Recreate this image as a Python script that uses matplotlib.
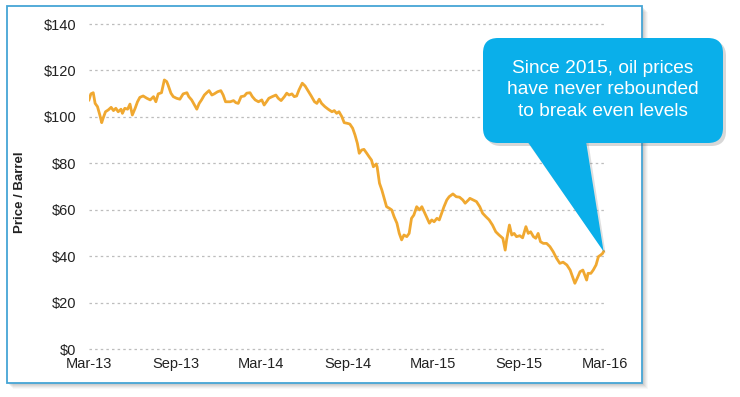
import matplotlib
matplotlib.use('Agg')
import matplotlib.pyplot as plt
import matplotlib.dates as mdates
from matplotlib.patches import Rectangle, FancyBboxPatch, Polygon
import pandas as pd

plt.rcParams['font.family'] = ['Liberation Sans', 'DejaVu Sans']

# Brent price readings (USD / barrel), dated in days after start_date
start_date = '2013-03-01'
day_offsets = [
    0, 4, 9, 13, 18, 23, 27, 30, 35, 41, 47, 52, 57, 62, 68, 71, 76, 82, 87, 92,
    98, 103, 108, 115, 123, 130, 137, 142, 147, 154, 160, 165, 168, 174, 179, 186, 193, 200, 208, 212,
    218, 224, 229, 234, 239, 245, 250, 255, 261, 266, 273, 280, 285, 290, 300, 307, 312, 317, 323, 330,
    335, 342, 347, 353, 360, 367, 372, 377, 382, 389, 397, 402, 408, 415, 420, 425, 431, 436, 441, 446,
    453, 459, 465, 472, 479, 484, 489, 494, 501, 508, 516, 521, 526, 531, 537, 542, 549, 554, 560, 565,
    570, 574, 579, 584, 590, 595, 600, 604, 610, 612, 617, 622, 627, 632, 638, 643, 648, 654, 659, 664,
    669, 675, 680, 685, 690, 696, 702, 707, 712, 717, 723, 728, 733, 739, 744, 749, 754, 760, 765, 773,
    780, 787, 794, 799, 806, 809, 816, 823, 830, 836, 843, 850, 857, 864, 871, 879, 884, 887, 893, 898,
    903, 908, 915, 921, 928, 933, 938, 944, 949, 954, 959, 965, 972, 979, 986, 993, 1000, 1007, 1015, 1022,
    1027, 1032, 1037, 1043, 1049, 1053, 1057, 1060, 1066, 1071, 1077, 1082, 1087, 1091, 1093,
]
prices = [
    107.3, 109.9, 110.4, 105.8, 104.4, 100.8, 97.5, 99.4, 102.2, 103.0, 104.1, 102.7, 103.7, 102.2, 103.3, 101.5, 103.7, 103.3, 105.5, 100.8,
    103.7, 106.5, 108.4, 109.0, 108.0, 107.3, 108.7, 106.5, 109.9, 110.4, 115.9, 115.2, 113.7, 110.2, 108.7, 108.0, 107.6, 109.9, 110.4, 108.7,
    107.3, 105.1, 103.3, 105.8, 107.3, 109.4, 110.4, 111.3, 109.4, 109.9, 110.8, 111.3, 109.4, 106.5, 106.5, 107.0, 106.1, 105.8, 108.7, 109.0,
    110.2, 110.4, 108.7, 107.3, 106.5, 107.3, 105.1, 106.5, 108.0, 108.7, 109.4, 108.0, 107.0, 108.7, 110.2, 109.4, 109.9, 108.7, 109.0, 111.6,
    114.5, 113.3, 111.3, 109.0, 106.5, 105.8, 107.6, 105.8, 104.4, 103.3, 102.2, 102.7, 101.5, 102.2, 100.1, 97.5, 97.2, 96.9, 95.1, 92.2,
    88.6, 84.3, 85.7, 86.0, 84.3, 82.8, 81.4, 78.5, 79.7, 78.5, 71.4, 68.5, 64.9, 61.3, 60.6, 59.9, 57.0, 54.2, 49.8, 47.0,
    49.1, 48.4, 49.8, 56.3, 57.7, 61.3, 59.9, 61.3, 59.1, 57.0, 54.2, 55.6, 54.8, 56.3, 55.6, 58.5, 61.3, 64.2, 65.6, 66.8,
    65.6, 65.4, 64.2, 62.8, 64.2, 64.9, 64.2, 63.5, 61.3, 58.5, 57.0, 55.6, 53.4, 50.5, 49.1, 47.7, 42.6, 47.0, 53.4, 49.1,
    49.8, 48.4, 48.8, 47.9, 52.7, 49.8, 50.5, 48.4, 47.7, 49.8, 46.2, 45.5, 45.5, 44.1, 41.9, 39.1, 36.9, 37.4, 36.2, 34.0,
    31.1, 28.3, 30.5, 33.3, 34.0, 31.9, 29.7, 32.6, 32.6, 34.0, 36.2, 39.8, 40.5, 41.2, 42.0,
]
yticks = [0, 20, 40, 60, 80, 100, 120, 140]
note = "Since 2015, oil prices\nhave never rebounded\nto break even levels"

W, H = 740, 397


def pt(px, py):
    # pixel position (from top-left) -> inches for dpi_scale_trans
    return (px / 100, (H - py) / 100)


def main():
    x = pd.Timestamp(start_date) + pd.to_timedelta(day_offsets, unit='D')

    fig = plt.figure(figsize=(7.4, 3.97), dpi=100)
    tr = fig.dpi_scale_trans

    # white card with soft shadow
    for off, a in [(6, 0.05), (5, 0.07), (4, 0.09), (3, 0.11), (2, 0.13)]:
        fig.patches.append(Rectangle(pt(7 + off, 383 + off), 6.35, 3.77, transform=tr,
                                     facecolor='#808080', alpha=a, edgecolor='none', zorder=-3))
    fig.patches.append(Rectangle(pt(7, 383), 6.35, 3.77, transform=tr,
                                 facecolor='white', edgecolor='#45a5d5', lw=1.3, zorder=-2))

    ax = fig.add_axes([89 / W, (H - 349) / H, (605 - 89) / W, (349 - 24) / H])
    ax.patch.set_alpha(0)
    ax.plot(x, prices, color='#F0A830', lw=2.0, solid_joinstyle='round')

    ax.set_ylim(0, 140)
    ax.set_xlim(pd.Timestamp('2013-03-01'), pd.Timestamp('2016-03-01'))
    ax.set_yticks(yticks)
    ax.set_yticklabels([r'\$%d' % v for v in yticks])
    ax.xaxis.set_major_locator(mdates.MonthLocator(bymonth=[3, 9]))
    ax.xaxis.set_major_formatter(mdates.DateFormatter('%b-%y'))
    ax.tick_params(axis='both', length=0, labelsize=10.5, colors='#222222')
    ax.tick_params(axis='y', pad=9)
    ax.tick_params(axis='x', pad=6)
    for s in ax.spines.values():
        s.set_visible(False)
    ax.grid(axis='y', color='#bdbdbd', linestyle=(0, (2, 2.5)), lw=0.9)
    for gl in ax.get_ygridlines():
        gl.set_clip_on(False)

    fig.text(20 / W, 1 - 192 / H, 'Price / Barrel', rotation=90, ha='center', va='center',
             fontsize=9.5, fontweight='bold', color='#222222')

    # callout bubble pointing at the last price
    fig.canvas.draw()
    tip = ax.transData.transform((mdates.date2num(x[-1]), prices[-1])) / 100
    blue = '#0AAFEA'
    fig.patches.append(FancyBboxPatch(pt(486, 146), 2.40, 1.05, transform=tr,
                                      boxstyle='round,pad=0,rounding_size=0.15',
                                      facecolor='#606060', alpha=0.25, edgecolor='none', zorder=4))
    fig.patches.append(Polygon([pt(526, 140), pt(588, 140), (tip[0] + 0.02, tip[1] - 0.02)],
                               closed=True, transform=tr, facecolor='#606060', alpha=0.2,
                               edgecolor='none', zorder=4))
    fig.patches.append(Polygon([pt(523, 135), pt(585, 135), tuple(tip)], closed=True,
                               transform=tr, facecolor=blue, edgecolor='none', zorder=5))
    fig.patches.append(FancyBboxPatch(pt(483, 143), 2.40, 1.05, transform=tr,
                                      boxstyle='round,pad=0,rounding_size=0.15',
                                      facecolor=blue, edgecolor='none', zorder=5))
    fig.text(603 / W, 1 - 90 / H, note, ha='center', va='center', color='white',
             fontsize=13.8, linespacing=1.38, zorder=6)

    fig.savefig('out.png', dpi=100)


if __name__ == '__main__':
    main()
